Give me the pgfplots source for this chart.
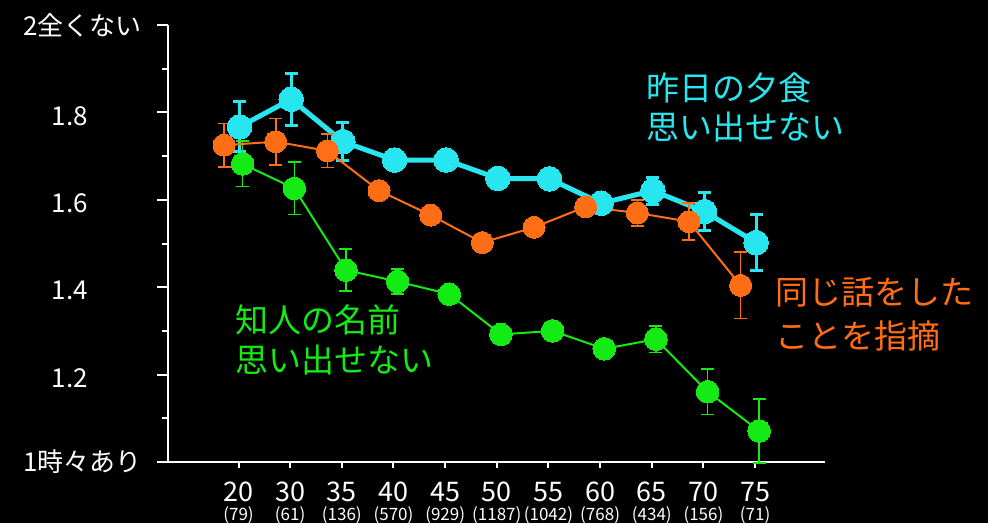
\documentclass[border=0pt]{standalone}
\usepackage{fontspec}
\setmainfont{Noto Sans CJK JP}
\usepackage{pgfplots}
\pgfplotsset{compat=1.18}
\usepackage{pgfplotstable}

\definecolor{cy}{RGB}{40,230,240}
\definecolor{og}{RGB}{255,110,20}
\definecolor{gr}{RGB}{20,235,20}

% x = age group index (20,30,35,...,75 -> 0..10), slightly offset per series
\pgfplotstableread{
x y e
0.02 1.767 0.057
1.02 1.830 0.059
2.02 1.733 0.043
3.02 1.691 0
4.02 1.691 0
5.02 1.649 0
6.02 1.648 0
7.02 1.592 0
8.02 1.621 0.031
9.02 1.573 0.043
10.02 1.502 0.064
}\dinner

\pgfplotstableread{
x y e
-0.28 1.725 0.050
0.72 1.733 0.053
1.72 1.712 0.038
2.72 1.621 0
3.72 1.565 0
4.72 1.502 0
5.72 1.537 0
6.72 1.584 0
7.72 1.570 0.030
8.72 1.550 0.042
9.72 1.404 0.076
}\samestory

\pgfplotstableread{
x y e
0.08 1.682 0.052
1.08 1.626 0.060
2.08 1.439 0.048
3.08 1.413 0.029
4.08 1.384 0
5.08 1.292 0
6.08 1.300 0
7.08 1.259 0
8.08 1.281 0.030
9.08 1.161 0.052
10.08 1.071 0.073
}\names

\begin{document}
\begin{tikzpicture}[x=1pt,y=1pt]
\fill[black] (0,0) rectangle (988,523);
\begin{axis}[
  at={(168pt,61pt)}, anchor=south west,
  scale only axis, width=657pt, height=437pt,
  xmin=-1.365, xmax=11.353, ymin=1, ymax=2,
  axis x line*=bottom, axis y line*=left,
  axis line style={white, line width=2.5pt, -},
  tick align=outside,
  major tick length=11pt, minor tick length=6pt,
  every tick/.style={white, line width=2pt},
  ytick={1.2,1.4,1.6,1.8},
  yticklabels={1.2,1.4,1.6,1.8},
  minor ytick={1.1,1.3,1.5,1.7,1.9},
  yticklabel style={white, anchor=east, inner sep=0pt, xshift=-69pt, yshift=-3.5pt,
    font=\fontsize{26}{26}\selectfont},
  extra y ticks={1,2},
  extra y tick labels={1時々あり,2全くない},
  extra y tick style={yticklabel style={xshift=54pt, yshift=3.5pt}},
  xtick={0,1,2,3,4,5,6,7,8,9,10},
  xticklabels={20,30,35,40,45,50,55,60,65,70,75},
  xtick style={/pgfplots/major tick length=6pt},
  xticklabel style={white, anchor=north, inner sep=0pt, yshift=-9pt,
    font=\fontsize{27}{27}\selectfont},
  extra x ticks={0,1,2,3,4,5,6,7,8,9,10},
  extra x tick labels={(79),(61),(136),(570),(929),(1187),(1042),(768),(434),(156),(71)},
  extra x tick style={tick style={draw=none},
    xticklabel style={yshift=-24pt, font=\fontsize{17}{17}\selectfont}},
  clip=false,
]
% 昨日の夕食
\addplot[cy, line width=5pt, mark=*, mark size=12.3pt,
  mark options={fill=cy, draw=cy, line width=0pt},
  error bars/.cd, y dir=both, y explicit,
  error bar style={cy, line width=3pt},
  error mark options={cy, rotate=90, line width=3pt, mark size=6.5pt}]
  table[x=x, y=y, y error=e] {\dinner};
% 知人の名前
\addplot[gr, line width=2pt, mark=*, mark size=11.3pt,
  mark options={fill=gr, draw=gr, line width=0pt},
  error bars/.cd, y dir=both, y explicit,
  error bar style={gr, line width=1.6pt},
  error mark options={gr, rotate=90, line width=1.6pt, mark size=6.5pt}]
  table[x=x, y=y, y error=e] {\names};
% 同じ話
\addplot[og, line width=2pt, mark=*, mark size=11pt,
  mark options={fill=og, draw=og, line width=0pt},
  error bars/.cd, y dir=both, y explicit,
  error bar style={og, line width=1.6pt},
  error mark options={og, rotate=90, line width=1.6pt, mark size=6.5pt}]
  table[x=x, y=y, y error=e] {\samestory};
\end{axis}
\begin{scope}[every node/.style={inner sep=0pt, anchor=west, font=\fontsize{33}{33}\selectfont}]
\node[text=cy] at (646.7,435) {昨日の夕食};
\node[text=cy] at (646.7,396) {思い出せない};
\node[text=og] at (775,231) {同じ話をした};
\node[text=og] at (775,187) {ことを指摘};
\node[text=gr] at (235,203) {知人の名前};
\node[text=gr] at (235,163) {思い出せない};
\end{scope}
\pgfresetboundingbox
\path (0,0) rectangle (988,523);
\end{tikzpicture}
\end{document}
